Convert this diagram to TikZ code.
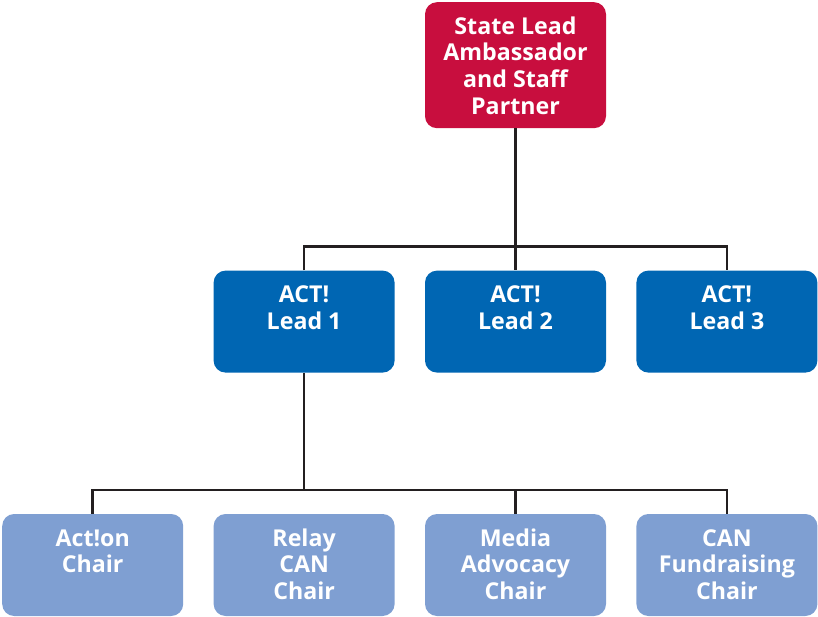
\documentclass[tikz,border=0pt]{standalone}
\usepackage{fontspec}
\setmainfont{Open Sans}
\usetikzlibrary{positioning}
\definecolor{statered}{HTML}{C80E3E}
\definecolor{leadblue}{HTML}{0066B3}
\definecolor{chairblue}{HTML}{7F9FD2}
\definecolor{wire}{HTML}{231F20}
% lines hang from the first baseline
\newcommand{\boxlines}[1]{\begin{tabular}[t]{@{}c@{}}#1\end{tabular}}

\begin{document}
\begin{tikzpicture}[x=1pt,y=1pt,
                    box/.style={rectangle,rounded corners=12pt,minimum width=181pt,
                                inner xsep=4pt,inner ysep=5pt,text height=27pt,
                                text=white,font=\bfseries\fontsize{23.2pt}{26.7pt}\selectfont},
                    statebox/.style={box,fill=statered,text depth=89pt},
                    leadbox/.style={box,fill=leadblue,text depth=65pt},
                    chairbox/.style={box,fill=chairblue,text depth=65pt},
                    wire/.style={draw=wire,line width=2.5pt}]
\useasboundingbox (0,0) rectangle (818,-617);

\node[statebox,anchor=north] (state) at (515.5,-2) {\boxlines{State Lead\\Ambassador\\and Staff\\Partner}};

\node[leadbox,below=142pt of state] (lead2) {\boxlines{ACT!\\Lead 2}};
\node[leadbox,left=30pt of lead2] (lead1) {\boxlines{ACT!\\Lead 1}};
\node[leadbox,right=30pt of lead2] (lead3) {\boxlines{ACT!\\Lead 3}};

\node[chairbox,below=141pt of lead2] (media) {\boxlines{Media\\Advocacy\\Chair}};
\node[chairbox,left=30pt of media] (relay) {\boxlines{Relay\\CAN\\Chair}};
\node[chairbox,left=30pt of relay] (action) {\boxlines{Act!on\\Chair}};
\node[chairbox,right=30pt of media] (fund) {\boxlines{CAN\\Fundraising\\Chair}};

\draw[wire] (state.south) -- ([yshift=24pt]lead2.north) coordinate (leadbus);
\draw[wire] (lead1.north) |- (leadbus) -| (lead3.north);
\draw[wire] (leadbus) -- (lead2.north);

\draw[wire] (lead1.south) -- ([yshift=24pt]relay.north) coordinate (chairbus);
\draw[wire] (action.north) |- (chairbus) -| (fund.north);
\draw[wire] (media.north) -- ([yshift=24pt]media.north);

\end{tikzpicture}
\end{document}
